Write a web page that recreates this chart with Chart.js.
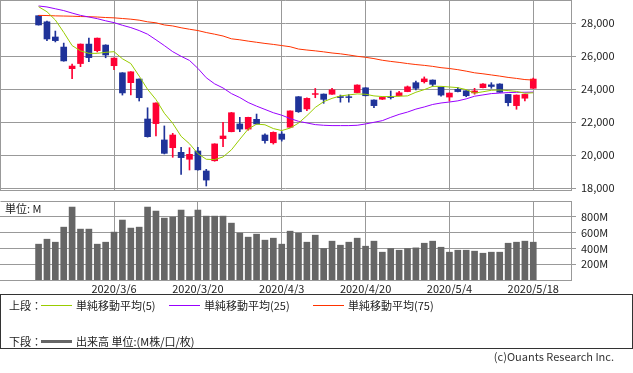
<!DOCTYPE html>
<html>
<head>
<meta charset="utf-8">
<script src="https://cdn.jsdelivr.net/npm/chart.js@4.4.1/dist/chart.umd.min.js"></script>
<style>
    body { margin: 0; width: 633px; height: 373px; background: #fff; position: relative; overflow: hidden;
           font-family: "Noto Sans CJK JP", sans-serif; font-size: 11px; color: #222; }
    #priceChart { position: absolute; left: 0; top: 0; }
    #volumeChart { position: absolute; left: 0; top: 195px; }
    .unit { position: absolute; left: 5px; top: 202px; line-height: 13px; }
    .legend { position: absolute; left: 0; top: 294px; width: 631px; height: 53px; border: 1px solid #333; }
    .legend span { position: absolute; line-height: 13px; white-space: nowrap; }
    .legend svg { position: absolute; left: 0; top: 0; }
    .copy { position: absolute; right: 19px; top: 350px; line-height: 13px; color: #333; }
</style>
</head>
<body>
<canvas id="priceChart" width="633" height="200"></canvas>
<canvas id="volumeChart" width="633" height="100"></canvas>
<div class="unit">単位: M</div>
<div class="legend">
    <svg width="631" height="53" shape-rendering="crispEdges">
        <line x1="40" y1="10.5" x2="71" y2="10.5" stroke="#99cc00" stroke-width="1"/>
        <line x1="168" y1="10.5" x2="199" y2="10.5" stroke="#9900ff" stroke-width="1"/>
        <line x1="312" y1="10.5" x2="343" y2="10.5" stroke="#ff3300" stroke-width="1"/>
        <line x1="40" y1="46.5" x2="71" y2="46.5" stroke="#666666" stroke-width="3"/>
    </svg>
    <span style="left:8px;top:4px">上段：</span>
    <span style="left:75px;top:4px">単純移動平均(5)</span>
    <span style="left:203px;top:4px">単純移動平均(25)</span>
    <span style="left:347px;top:4px">単純移動平均(75)</span>
    <span style="left:8px;top:40px">下段：</span>
    <span style="left:75px;top:40px">出来高 単位:(M株/口/枚)</span>
</div>
<div class="copy">(c)Ouants Research Inc.</div>

<script>
// ---- data ----
const dates = ['2020/2/24','2020/2/25','2020/2/26','2020/2/27','2020/2/28','2020/3/2','2020/3/3','2020/3/4','2020/3/5','2020/3/6',
    '2020/3/9','2020/3/10','2020/3/11','2020/3/12','2020/3/13','2020/3/16','2020/3/17','2020/3/18','2020/3/19','2020/3/20',
    '2020/3/23','2020/3/24','2020/3/25','2020/3/26','2020/3/27','2020/3/30','2020/3/31','2020/4/1','2020/4/2','2020/4/3',
    '2020/4/6','2020/4/7','2020/4/8','2020/4/9','2020/4/13','2020/4/14','2020/4/15','2020/4/16','2020/4/17','2020/4/20',
    '2020/4/21','2020/4/22','2020/4/23','2020/4/24','2020/4/27','2020/4/28','2020/4/29','2020/4/30','2020/5/1','2020/5/4',
    '2020/5/5','2020/5/6','2020/5/7','2020/5/8','2020/5/11','2020/5/12','2020/5/13','2020/5/14','2020/5/15','2020/5/18'];

const open = [28460,28090,27170,26560,25250,25560,26740,26340,26680,25430,
    25000,24400,24620,22200,21920,20930,20460,20180,19760,20260,
    19050,19670,21010,21430,21900,21590,22180,21230,20760,21290,
    21700,23550,22810,23690,23710,23700,23560,23550,23800,24090,
    23350,23400,23550,23610,23860,24400,24460,24560,24120,23530,
    24000,23910,23780,24100,24270,24320,23690,23010,23460,24060];
const high = [28470,28140,27530,26800,25530,26750,27110,27110,26700,25900,
    25010,25070,24630,22880,23180,21780,21330,20480,20460,20490,
    19150,20700,22000,22600,22300,22310,22500,21300,21420,21430,
    22700,23560,23480,24050,23720,24060,23650,23680,24270,24100,
    23360,23540,23900,23880,24200,24500,24750,24570,24130,23780,
    24110,23920,24060,24340,24400,24340,23700,23660,23700,24680];
const low = [27890,26950,26870,25700,24640,25370,25670,26260,25910,25190,
    23650,23660,23290,21100,21170,20080,19880,18840,19110,19100,
    18140,19640,20520,21420,21430,21520,21890,20740,20680,20860,
    21690,22600,22700,23490,23150,23690,23220,23220,23790,23600,
    22880,23380,23410,23600,23850,23960,24380,24180,23590,23290,
    23840,23550,23700,24090,24060,23810,23000,22790,23290,24050];
const close = [27900,27050,26950,25720,25410,26740,25920,27100,26080,25890,
    23780,25060,23490,21130,23170,20120,21230,19860,20060,19120,
    18500,20690,21170,22580,21590,22300,21900,20890,21390,20970,
    22690,22640,23450,23740,23390,23970,23500,23500,24260,23610,
    23010,23510,23500,23790,24150,24060,24630,24300,23650,23770,
    23860,23610,23900,24320,24170,23820,23190,23650,23690,24620];

const ma5 = [29006,28700,28200,27450,26650,26330,26180,26180,26240,26280,
    25850,25560,24800,24000,23380,22550,21940,21150,20700,20100,
    19760,19740,19900,20330,20970,21590,21890,21850,21620,21500,
    21650,21950,22400,22900,23250,23450,23600,23660,23720,23700,
    23600,23560,23560,23580,23600,23820,23980,24180,24180,24140,
    24100,23980,23770,23850,23940,23960,23920,23870,23760,23790];
const ma25 = [29050,28990,28880,28770,28620,28480,28380,28280,28150,28040,
    27880,27740,27560,27340,27000,26650,26280,26000,25750,25270,
    24700,24330,24080,23740,23500,23200,22980,22780,22580,22430,
    22230,22060,21960,21860,21820,21800,21800,21800,21820,21900,
    22000,22100,22300,22480,22620,22800,22930,23080,23170,23230,
    23300,23420,23580,23660,23740,23770,23800,23815,23820,23830];
const ma75 = [28480,28470,28450,28440,28430,28410,28400,28380,28350,28330,
    28290,28250,28190,28090,28030,27900,27840,27730,27640,27560,
    27440,27340,27230,27060,27000,26920,26850,26780,26720,26650,
    26580,26440,26380,26330,26270,26200,26150,26080,26000,25940,
    25860,25760,25690,25630,25560,25500,25450,25390,25310,25260,
    25190,25100,25000,24940,24870,24800,24720,24660,24590,24560];

// volume in millions
const volume = [455,518,480,671,926,646,646,455,480,608,
    761,659,671,926,875,786,799,888,799,888,
    811,811,811,722,595,544,582,506,531,455,
    620,595,480,569,400,493,442,480,531,429,
    493,353,400,378,400,408,467,493,416,353,
    378,378,366,340,353,353,467,480,493,480];

const tickIdx = [9, 19, 29, 39, 49, 59];
const priceTicks = [18000, 20000, 22000, 24000, 26000, 28000];
const volTicks = [200, 400, 600, 800];

// ---- styling ----
const UP = '#ff0033';
const DOWN = '#1f3399';
const GRID = '#999999';
const TEXT = '#222222';
const FONT = { family: '"Noto Sans CJK JP", sans-serif', size: 11 };

const idx = dates.map((d, i) => i);
const candleColor = idx.map(i => close[i] >= open[i] ? UP : DOWN);
const xy = arr => idx.map(i => ({ x: i, y: arr[i] }));

// draws the frame lines Chart.js does not draw itself
const frame = {
    id: 'frame',
    afterDraw(chart, args, opts) {
        const { ctx, chartArea: a } = chart;
        ctx.save();
        ctx.strokeStyle = GRID;
        ctx.lineWidth = 1;
        ctx.beginPath();
        ctx.moveTo(a.left + 0.5, a.top + 0.5);
        ctx.lineTo(a.right, a.top + 0.5);
        if (opts.left) {
            ctx.moveTo(a.left + 0.5, a.top);
            ctx.lineTo(a.left + 0.5, a.bottom);
        }
        ctx.stroke();
        ctx.restore();
    }
};

const xScale = (showLabels, height) => ({
    type: 'linear',
    min: -4.6,
    max: 63.5,
    offset: false,
    grid: { color: GRID, drawTicks: false, offset: false },
    border: { display: true, color: GRID },
    ticks: {
        display: showLabels, autoSkip: false, maxRotation: 0, padding: 2,
        color: TEXT, font: FONT,
        callback: v => dates[v]
    },
    afterBuildTicks: s => { s.ticks = tickIdx.map(v => ({ value: v })); },
    afterFit: s => { s.height = height; s.paddingLeft = 0; s.paddingRight = 0; }
});

const yScale = (min, max, ticks, fmt) => ({
    position: 'right',
    min: min,
    max: max,
    grid: { color: GRID, tickLength: 5 },
    border: { display: true, color: GRID },
    ticks: { color: TEXT, font: FONT, padding: 5, callback: fmt },
    afterBuildTicks: s => { s.ticks = ticks.map(v => ({ value: v })); },
    afterFit: s => { s.width = 62; s.paddingTop = 0; s.paddingBottom = 0; }
});

/* ===========================
   PRICE CHART (candles + moving averages)
============================ */
new Chart(document.getElementById('priceChart'), {
    type: 'bar',
    data: {
        datasets: [
            { type: 'line', data: xy(ma5), borderColor: '#99cc00', borderWidth: 1, pointRadius: 0, order: 0 },
            { type: 'line', data: xy(ma25), borderColor: '#9900ff', borderWidth: 1, pointRadius: 0, order: 0 },
            { type: 'line', data: xy(ma75), borderColor: '#ff3300', borderWidth: 1, pointRadius: 0, order: 0 },
            {   // wicks
                data: idx.map(i => ({ x: i, y: [low[i], high[i]] })),
                backgroundColor: candleColor, barThickness: 1, grouped: false, order: 2
            },
            {   // bodies
                data: idx.map(i => ({ x: i, y: [open[i], close[i]] })),
                backgroundColor: candleColor, barThickness: 6, grouped: false, order: 1
            }
        ]
    },
    options: {
        responsive: false,
        animation: false,
        layout: { padding: { top: 0, bottom: 10, left: 0, right: 0 } },
        plugins: { legend: { display: false }, tooltip: { enabled: false }, frame: { left: true } },
        scales: {
            x: xScale(false, 0),
            y: yScale(17897, 29412, priceTicks, v => v.toLocaleString('en-US'))
        }
    },
    plugins: [frame]
});

/* ===========================
   VOLUME CHART
============================ */
new Chart(document.getElementById('volumeChart'), {
    type: 'bar',
    data: {
        datasets: [{
            data: xy(volume),
            backgroundColor: '#666666',
            barThickness: 6
        }]
    },
    options: {
        responsive: false,
        animation: false,
        layout: { padding: { top: 6, bottom: 0, left: 0, right: 0 } },
        plugins: { legend: { display: false }, tooltip: { enabled: false }, frame: { left: false } },
        scales: {
            x: xScale(true, 15),
            y: yScale(0, 1003, volTicks, v => v + 'M')
        }
    },
    plugins: [frame]
});
</script>
</body>
</html>
